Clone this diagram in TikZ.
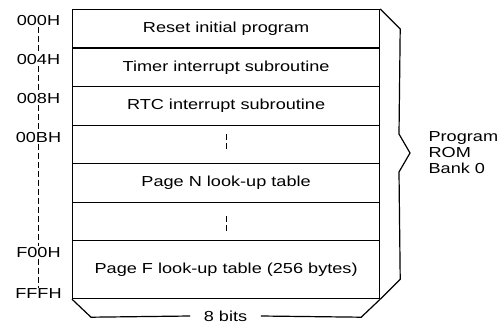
\documentclass[tikz,border=0pt]{standalone}
\usepackage{fontspec}
\setmainfont[FakeStretch=1.25]{Liberation Sans}
\usetikzlibrary{calc}

\begin{document}
\begin{tikzpicture}[x=1pt, y=-1pt, line width=1.2pt,
        every node/.style={font=\fontsize{14.5}{16}\selectfont},
        cell/.style={rectangle, draw=black, anchor=north west, minimum width=307pt, minimum height=38.5pt, inner sep=0pt},
        addr/.style={inner sep=0.5pt},
        gap/.style={line width=1pt, dash pattern=on 6pt off 3pt}]

        \useasboundingbox (0,0) rectangle (502,326);

        %% Memory cells
        \node (reset) [cell] at (72,9) {Reset initial program};
        \node (timer) [cell] at (72,47.5) {Timer interrupt subroutine};
        \node (rtc) [cell] at (72,86) {RTC interrupt subroutine};
        \node (blanka) [cell] at (72,124.5) {};
        \node (pagen) [cell] at (72,163) {Page N look-up table};
        \node (blankb) [cell] at (72,201.5) {};
        \node (pagef) [cell, minimum height=58pt] at (72,240) {Page F look-up table (256 bytes)};

        %% Skipped pages
        \draw [gap] ($(blanka.center) + (0,-10)$) -- ($(blanka.center) + (0,7)$);
        \draw [gap] ($(blankb.center) + (0,-5)$) -- ($(blankb.center) + (0,13)$);

        %% Addresses
        \node (a000) [addr] at (38.5,21) {000H};
        \node (a004) [addr] at (38.5,60) {004H};
        \node (a008) [addr] at (38.5,99) {008H};
        \node (a00b) [addr] at (38.5,137.5) {00BH};
        \node (af00) [addr] at (38.5,252.5) {F00H};
        \node (afff) [addr] at (38.5,294) {FFFH};
        \foreach \from/\to in {a000/a004, a004/a008, a008/a00b, a00b/af00, af00/afff}
            \draw [gap] (\from) -- (\to);

        %% Bank brace
        \coordinate (tip) at (410,153);
        \node (bank) [anchor=west, align=left, inner sep=0pt] at (428,153) {Program\\ROM\\Bank 0};
        \draw (reset.north east) -- ++(20,20) -- ($(tip) + (-11,-19)$) -- (tip) -- ($(tip) + (-11,19)$) -- ($(pagef.south east) + (20,-20)$) -- (pagef.south east);

        %% Width
        \node (bits) [inner xsep=13pt, inner ysep=0pt] at (225.5,316) {8 bits};
        \draw (pagef.south west) -- ++(19,18) -- (bits.west);
        \draw (bits.east) -- ($(pagef.south east) + (-19,18)$) -- (pagef.south east);

\end{tikzpicture}
\end{document}
